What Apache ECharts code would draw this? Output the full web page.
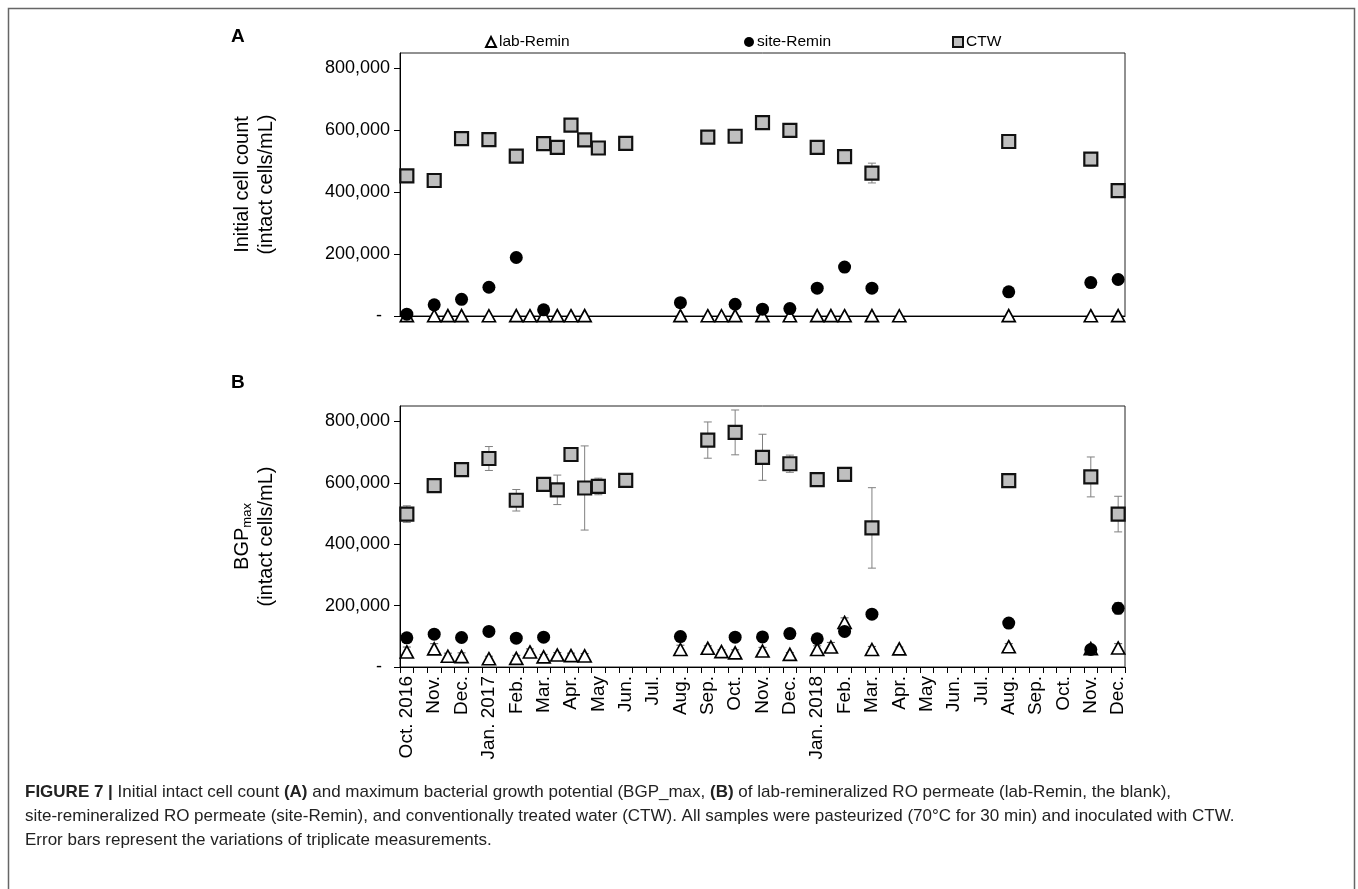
<!DOCTYPE html>
<html>
<head>
<meta charset="utf-8">
<script src="https://cdn.jsdelivr.net/npm/echarts@6/dist/echarts.min.js"></script>
<style>html,body{margin:0;padding:0;background:#fff}#c{width:1358px;height:889px}</style>
</head>
<body>
<div id="c"></div>
<script>
// Half-month sampling slots, Oct 2016 - Dec 2018
const categories = [
  '2016-10a','2016-10b','2016-11a','2016-11b','2016-12a','2016-12b',
  '2017-01a','2017-01b','2017-02a','2017-02b','2017-03a','2017-03b','2017-04a','2017-04b',
  '2017-05a','2017-05b','2017-06a','2017-06b','2017-07a','2017-07b','2017-08a','2017-08b',
  '2017-09a','2017-09b','2017-10a','2017-10b','2017-11a','2017-11b','2017-12a','2017-12b',
  '2018-01a','2018-01b','2018-02a','2018-02b','2018-03a','2018-03b','2018-04a','2018-04b',
  '2018-05a','2018-05b','2018-06a','2018-06b','2018-07a','2018-07b','2018-08a','2018-08b',
  '2018-09a','2018-09b','2018-10a','2018-10b','2018-11a','2018-11b','2018-12a'
];
const monthLabels = ['Oct. 2016','Nov.','Dec.','Jan. 2017','Feb.','Mar.','Apr.','May','Jun.','Jul.','Aug.','Sep.','Oct.','Nov.','Dec.',
  'Jan. 2018','Feb.','Mar.','Apr.','May','Jun.','Jul.','Aug.','Sep.','Oct.','Nov.','Dec.'];
const yTicks = [0, 200000, 400000, 600000, 800000];
const legendNames = ['lab-Remin', 'site-Remin', 'CTW'];

// ---- Panel A: initial intact cell count ----
const aLabDates = ['2016-10a','2016-11a','2016-11b','2016-12a','2017-01a','2017-02a','2017-02b','2017-03a','2017-03b','2017-04a','2017-04b',
  '2017-08a','2017-09a','2017-09b','2017-10a','2017-11a','2017-12a','2018-01a','2018-01b','2018-02a','2018-03a','2018-04a','2018-08a','2018-11a','2018-12a'];
const aLabValues = [1200, 900, 1000, 1100, 800, 1000, 900, 1200, 1000, 900, 1100,
  1000, 900, 800, 1100, 1000, 900, 1000, 1100, 900, 1000, 800, 1000, 900, 1000];

const aSiteDates = ['2016-10a','2016-11a','2016-12a','2017-01a','2017-02a','2017-03a','2017-08a','2017-10a','2017-11a','2017-12a',
  '2018-01a','2018-02a','2018-03a','2018-08a','2018-11a','2018-12a'];
const aSiteValues = [6000, 36000, 54000, 93000, 189000, 20000, 43000, 38000, 22000, 24000,
  90000, 158000, 90000, 78000, 108000, 118000];

const aCtwDates = ['2016-10a','2016-11a','2016-12a','2017-01a','2017-02a','2017-03a','2017-03b','2017-04a','2017-04b','2017-05a','2017-06a',
  '2017-09a','2017-10a','2017-11a','2017-12a','2018-01a','2018-02a','2018-03a','2018-08a','2018-11a','2018-12a'];
const aCtwValues = [453000, 438000, 573000, 570000, 517000, 557000, 545000, 617000, 569000, 543000, 558000,
  578000, 581000, 625000, 600000, 545000, 515000, 462000, 564000, 507000, 405000];
const aCtwErrors = [8000, 6000, 7000, 6000, 9000, 8000, 6000, 7000, 8000, 6000, 7000,
  8000, 7000, 6000, 7000, 8000, 9000, 32000, 8000, 7000, 9000];

// ---- Panel B: BGP_max ----
const bLabDates = aLabDates.slice();
const bLabValues = [49000, 59000, 35000, 34000, 27000, 28000, 49000, 33000, 39000, 37000, 36000,
  57000, 61000, 50000, 46000, 52000, 41000, 57000, 65000, 145000, 57000, 59000, 66000, 60000, 62000];
const bLabErrors = [16000, 17000, 10000, 12000, 8000, 10000, 10000, 8000, 8000, 8000, 8000,
  14000, 8000, 6000, 10000, 12000, 6000, 12000, 15000, 15000, 10000, 6000, 10000, 10000, 14000];

const bSiteDates = aSiteDates.slice();
const bSiteValues = [95000, 107000, 96000, 116000, 94000, 97000, 99000, 97000, 98000, 109000,
  92000, 116000, 172000, 143000, 57000, 191000];
const bSiteErrors = [6000, 6000, 6000, 6000, 6000, 10000, 6000, 6000, 6000, 6000,
  6000, 10000, 8000, 6000, 12000, 18000];

const bCtwDates = aCtwDates.slice();
const bCtwValues = [498000, 591000, 643000, 679000, 543000, 595000, 577000, 692000, 583000, 588000, 608000,
  739000, 764000, 683000, 662000, 610000, 627000, 453000, 607000, 619000, 498000];
const bCtwErrors = [27000, 10000, 10000, 39000, 35000, 22000, 48000, 18000, 137000, 27000, 20000,
  59000, 73000, 75000, 28000, 20000, 10000, 131000, 20000, 65000, 58000];

const FONT = '"Liberation Sans", Arial, Helvetica, sans-serif';
const chart = echarts.init(document.getElementById('c'));

function pts(dates, values) { return dates.map((d, i) => [categories.indexOf(d), values[i]]); }
function errPts(dates, values, errs) { return dates.map((d, i) => [categories.indexOf(d), values[i], errs[i]]); }

function errSeries(idx, data, color) {
  return {
    type: 'custom', xAxisIndex: idx, yAxisIndex: idx, z: 1, silent: true,
    data: data,
    renderItem: function (params, api) {
      const x = api.value(0), v = api.value(1), e = api.value(2);
      const t = api.coord([x, v + e]);
      const b = api.coord([x, v - e]);
      const w = 4;
      const st = { stroke: color, lineWidth: 1 };
      return { type: 'group', children: [
        { type: 'line', shape: { x1: t[0], y1: t[1], x2: b[0], y2: b[1] }, style: st },
        { type: 'line', shape: { x1: t[0] - w, y1: t[1], x2: t[0] + w, y2: t[1] }, style: st },
        { type: 'line', shape: { x1: b[0] - w, y1: b[1], x2: b[0] + w, y2: b[1] }, style: st }
      ]};
    }
  };
}

const labStyle = { color: '#ffffff', borderColor: '#000000', borderWidth: 1.7, opacity: 1 };
const siteStyle = { color: '#000000', borderColor: '#000000', borderWidth: 0, opacity: 1 };
const ctwStyle = { color: '#bfbfbf', borderColor: '#111111', borderWidth: 2.2, opacity: 1 };

function scatter(idx, name, data, symbol, size, style) {
  return { type: 'scatter', name: name, xAxisIndex: idx, yAxisIndex: idx, z: 3,
    symbol: symbol, symbolSize: size, itemStyle: style, data: data,
    emphasis: { disabled: true } };
}

function xAxis(idx, showLabels) {
  return {
    type: 'category', gridIndex: idx, data: categories, boundaryGap: true,
    axisLine: { show: true, lineStyle: { color: '#000', width: 1 } },
    axisTick: { show: showLabels, interval: 0, length: 6, lineStyle: { color: '#000', width: 1 } },
    axisLabel: {
      show: showLabels, interval: 0, rotate: 90, margin: 9,
      fontSize: 19, color: '#000', fontFamily: FONT,
      formatter: function (val, i) { return i % 2 === 0 ? monthLabels[i / 2] : ''; }
    },
    splitLine: { show: false }
  };
}

function yAxis(idx, name, gap) {
  return {
    type: 'value', gridIndex: idx, min: 0, max: 850000,
    name: name, nameLocation: 'middle', nameGap: gap,
    nameTextStyle: {
      fontSize: 20, lineHeight: 24, color: '#000', fontFamily: FONT,
      rich: {
        a: { fontSize: 20, lineHeight: 24, color: '#000', fontFamily: FONT },
        s: { fontSize: 13, lineHeight: 24, color: '#000', fontFamily: FONT, verticalAlign: 'bottom', padding: [10, 0, 0, 0] }
      }
    },
    axisLine: { show: true, lineStyle: { color: '#000', width: 1 } },
    axisTick: { show: true, length: 6, customValues: yTicks, lineStyle: { color: '#000' } },
    axisLabel: {
      customValues: yTicks, margin: 10, fontSize: 18, color: '#000', fontFamily: FONT,
      formatter: function (v) { return v === 0 ? '{d|-}' : v.toLocaleString('en-US'); },
      rich: { d: { fontSize: 18, color: '#000', fontFamily: FONT, padding: [0, 8, 0, 0] } }
    },
    splitLine: { show: false }
  };
}

function legend(name, left) {
  return {
    data: [name], left: left, top: 29, itemWidth: 10, itemHeight: 10, itemGap: 4, selectedMode: false,
    textStyle: { fontSize: 15.5, color: '#000', fontFamily: FONT, padding: [0, 0, 0, -2] }
  };
}

const option = {
  animation: false,
  backgroundColor: '#ffffff',
  textStyle: { fontFamily: FONT },
  legend: [legend(legendNames[0], 480), legend(legendNames[1], 739), legend(legendNames[2], 947)],
  grid: [
    { left: 400, width: 725, top: 53, height: 263, show: true, borderColor: '#222', borderWidth: 1, backgroundColor: 'transparent' },
    { left: 400, width: 725, top: 406, height: 261, show: true, borderColor: '#222', borderWidth: 1, backgroundColor: 'transparent' }
  ],
  xAxis: [xAxis(0, false), xAxis(1, true)],
  yAxis: [
    yAxis(0, 'Initial cell count\n(intact cells/mL)', 122),
    yAxis(1, '{a|BGP}{s|max}\n{a|(intact cells/mL)}', 122)
  ],
  series: [
    errSeries(0, errPts(aCtwDates, aCtwValues, aCtwErrors), '#808080'),
    scatter(0, legendNames[0], pts(aLabDates, aLabValues), 'triangle', [13, 12], labStyle),
    scatter(0, legendNames[1], pts(aSiteDates, aSiteValues), 'circle', 13, siteStyle),
    scatter(0, legendNames[2], pts(aCtwDates, aCtwValues), 'rect', 13, ctwStyle),

    errSeries(1, errPts(bLabDates, bLabValues, bLabErrors), '#555555'),
    errSeries(1, errPts(bSiteDates, bSiteValues, bSiteErrors), '#555555'),
    errSeries(1, errPts(bCtwDates, bCtwValues, bCtwErrors), '#808080'),
    scatter(1, legendNames[0], pts(bLabDates, bLabValues), 'triangle', [13, 12], labStyle),
    scatter(1, legendNames[1], pts(bSiteDates, bSiteValues), 'circle', 13, siteStyle),
    scatter(1, legendNames[2], pts(bCtwDates, bCtwValues), 'rect', 13, ctwStyle)
  ],
  graphic: [
    { type: 'rect', silent: true, shape: { x: 8.5, y: 8.5, width: 1346, height: 920 },
      style: { fill: 'none', stroke: '#666', lineWidth: 1.5 } },
    { type: 'text', left: 231, top: 27, style: { text: 'A', font: 'bold 19px ' + FONT, fill: '#000' } },
    { type: 'text', left: 231, top: 373, style: { text: 'B', font: 'bold 19px ' + FONT, fill: '#000' } },
    { type: 'text', left: 25, top: 784, style: {
        text: '{b|FIGURE 7 |} Initial intact cell count {b|(A)} and maximum bacterial growth potential (BGP_max, {b|(B)} of lab-remineralized RO permeate (lab-Remin, the blank),',
        font: '17px ' + FONT, fill: '#222',
        rich: { b: { font: 'bold 17px ' + FONT, fill: '#222' } } } },
    { type: 'text', left: 25, top: 808, style: {
        text: 'site-remineralized RO permeate (site-Remin), and conventionally treated water (CTW). All samples were pasteurized (70°C for 30 min) and inoculated with CTW.',
        font: '17px ' + FONT, fill: '#222' } },
    { type: 'text', left: 25, top: 832, style: {
        text: 'Error bars represent the variations of triplicate measurements.',
        font: '17px ' + FONT, fill: '#222' } }
  ]
};
chart.setOption(option);
</script>
</body>
</html>
